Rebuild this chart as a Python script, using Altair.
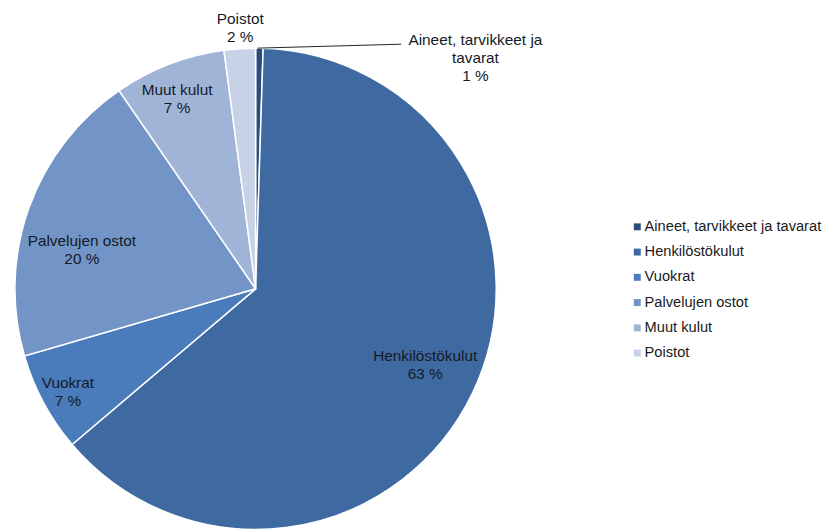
import altair as alt
import pandas as pd

categories = ["Aineet, tarvikkeet ja tavarat", "Henkilöstökulut", "Vuokrat",
              "Palvelujen ostot", "Muut kulut", "Poistot"]
label_names = ["Aineet, tarvikkeet ja\ntavarat", "Henkilöstökulut", "Vuokrat",
               "Palvelujen ostot", "Muut kulut", "Poistot"]
values = [0.5, 63.3, 6.7, 19.9, 7.5, 2.1]
pct_labels = ["1 %", "63 %", "7 %", "20 %", "7 %", "2 %"]
colors = ["#2c4d7b", "#3e6aa1", "#4a7bbb", "#7294c7", "#a0b4d7", "#c8d2e7"]

df = pd.DataFrame({
    "category": categories,
    "name": label_names,
    "value": values,
    "pct": pct_labels,
    "order": list(range(len(categories))),
})
df["label"] = df["name"] + "\n" + df["pct"]

total = float(sum(values))
FONT = "Liberation Sans"
FS = 15.5
CX, CY = 250, 281
R = 243

base = alt.Chart(df)

theta_scale = alt.Scale(domain=[0, total])

arcs = base.mark_arc(stroke="white", strokeWidth=1.5, outerRadius=R).encode(
    theta=alt.Theta("value:Q", stack=True, scale=theta_scale),
    color=alt.Color(
        "category:N",
        scale=alt.Scale(domain=categories, range=colors),
        sort=categories,
        legend=alt.Legend(
            title=None, orient="none", legendX=628, legendY=211,
            symbolType="square", symbolSize=49, symbolStrokeWidth=0,
            labelFont=FONT, labelFontSize=14.8, labelColor="#1a1a1a",
            rowPadding=9.5, labelOffset=0, labelLimit=300,
        ),
    ),
    order=alt.Order("order:Q"),
    x=alt.value(CX),
    y=alt.value(CY),
)

mid = base.transform_window(
    cum="sum(value)", sort=[alt.SortField("order")], frame=[None, 0]
).transform_calculate(mid="datum.cum - datum.value / 2")


def label_layer(cat, radius, dx=0, dy=0):
    return mid.transform_filter(alt.datum.category == cat).mark_text(
        radius=radius, dx=dx, dy=dy, font=FONT, fontSize=FS, color="#141a26",
        lineBreak="\n", lineHeight=18, align="center", baseline="middle",
    ).encode(
        theta=alt.Theta("mid:Q", scale=theta_scale),
        text="label:N",
        x=alt.value(CX),
        y=alt.value(CY),
    )


labels = [
    label_layer("Henkilöstökulut", 179, 10, -10),
    label_layer("Vuokrat", 222, 6, -10),
    label_layer("Palvelujen ostot", 182, -4, 13),
    label_layer("Muut kulut", 204, -6, -10),
    label_layer("Poistot", 265, 2, -8),
    label_layer("Aineet, tarvikkeet ja tavarat", 250, 218, -1),
]

leader = base.transform_filter(alt.datum.order == 0).mark_rule(
    color="#222222", strokeWidth=1
).encode(
    x=alt.value(252), x2=alt.value(397), y=alt.value(38), y2=alt.value(34)
)

chart = alt.layer(arcs, leader, *labels).properties(
    width=830, height=523, padding=0,
    autosize=alt.AutoSizeParams(type="none"),
).configure(background="white").configure_view(stroke=None)

chart.save("out.html", embed_options={"renderer": "svg", "actions": False})
